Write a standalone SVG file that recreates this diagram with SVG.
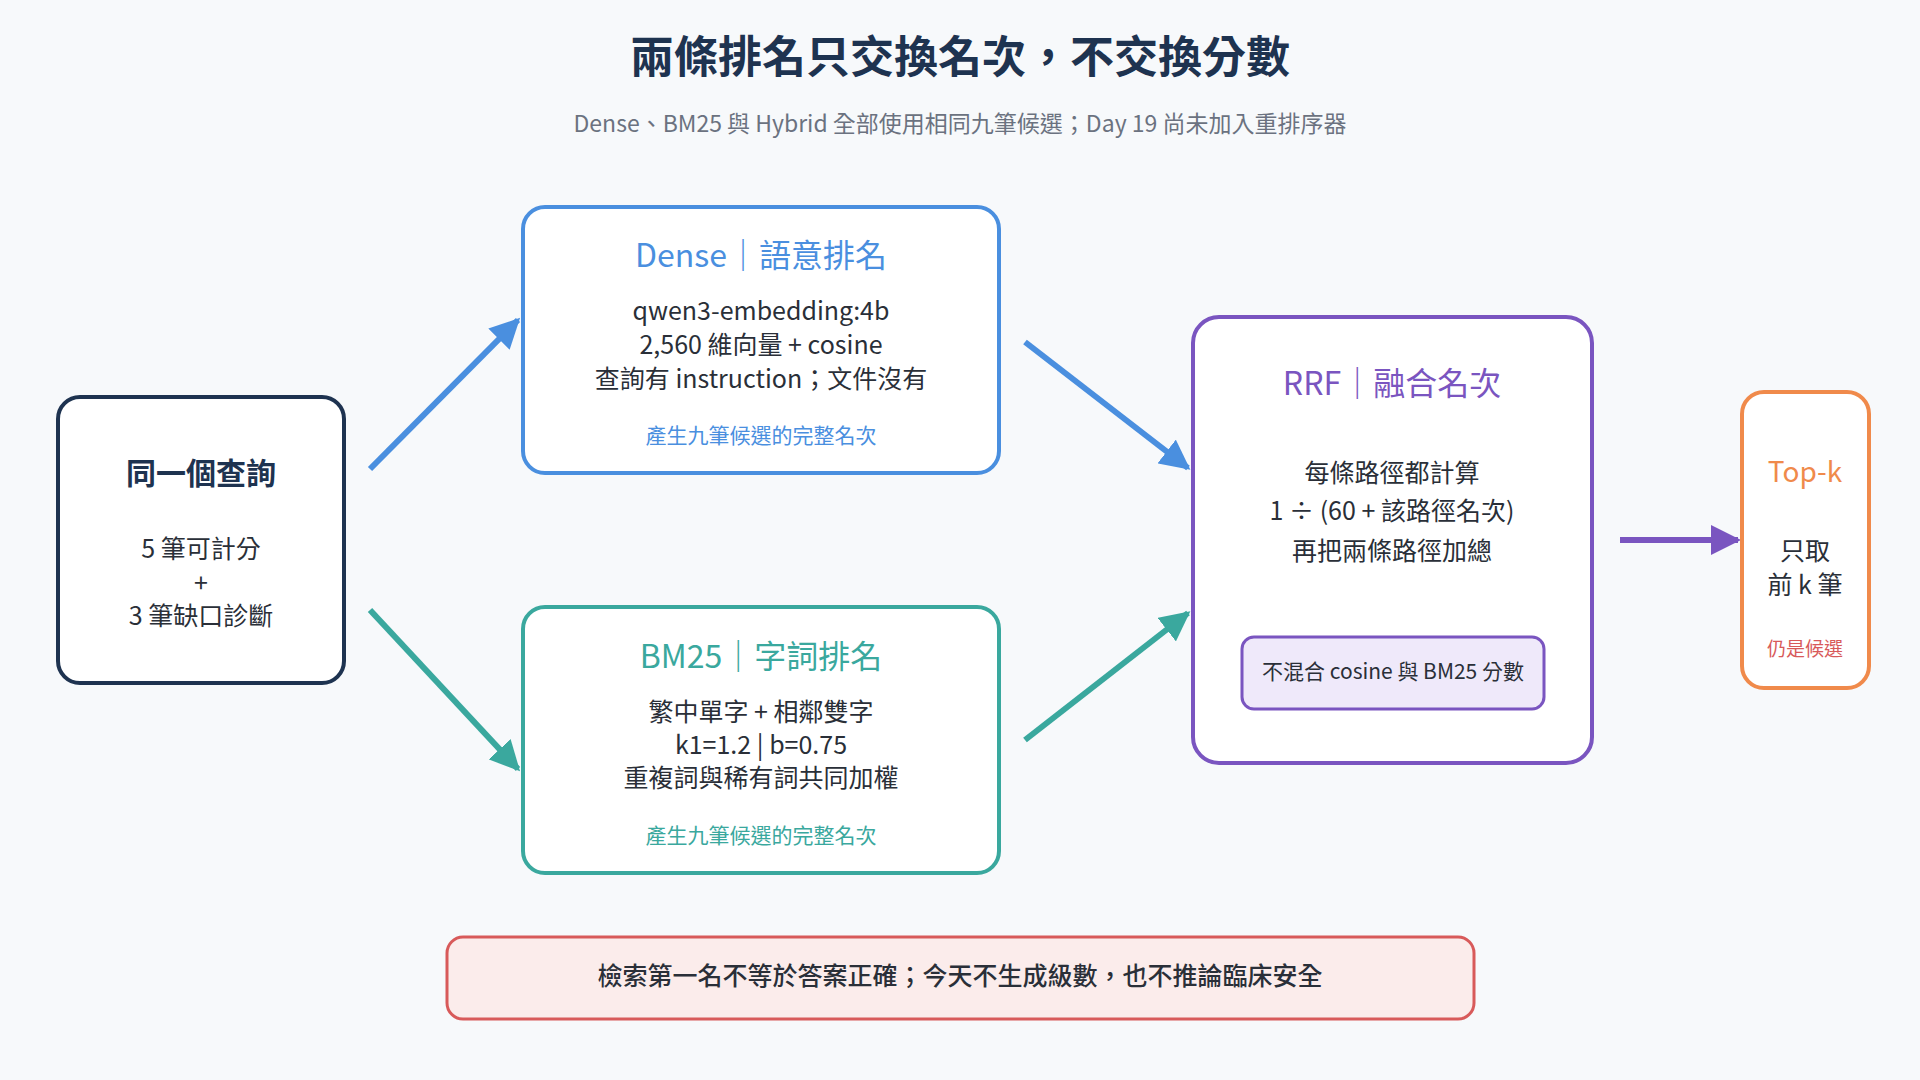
<svg xmlns="http://www.w3.org/2000/svg" width="1920" height="1080" viewBox="0 0 1920 1080">
<style>
text{font-family:"Noto Sans CJK TC","Noto Sans",sans-serif;text-anchor:middle;dominant-baseline:middle}
.box{fill:#fff;stroke-width:4}
.t{font-size:25px;fill:#2a2f38}
.h{font-size:32px}
.s{font-size:21px}
.c{stroke-width:6;fill:none}
</style>
<defs>
<marker id="mb" viewBox="0 0 10 10" refX="9" refY="5" markerWidth="5" markerHeight="5" orient="auto"><path d="M0,0L10,5L0,10z" fill="#4a8fdf"/></marker>
<marker id="mt" viewBox="0 0 10 10" refX="9" refY="5" markerWidth="5" markerHeight="5" orient="auto"><path d="M0,0L10,5L0,10z" fill="#3aa89e"/></marker>
<marker id="mp" viewBox="0 0 10 10" refX="9" refY="5" markerWidth="5" markerHeight="5" orient="auto"><path d="M0,0L10,5L0,10z" fill="#7a55c0"/></marker>
</defs>
<rect width="1920" height="1080" fill="#f7f9fb"/>
<text x="960" y="61" font-size="44" font-weight="bold" fill="#1e3350">兩條排名只交換名次，不交換分數</text>
<text x="960" y="126" font-size="23" fill="#6b7280">Dense、BM25 與 Hybrid 全部使用相同九筆候選；Day 19 尚未加入重排序器</text>
<g id="connectors">
<path class="c" d="M370,469L518,320" stroke="#4a8fdf" marker-end="url(#mb)"/>
<path class="c" d="M370,610L518,769" stroke="#3aa89e" marker-end="url(#mt)"/>
<path class="c" d="M1025,342L1188,468" stroke="#4a8fdf" marker-end="url(#mb)"/>
<path class="c" d="M1025,740L1188,613" stroke="#3aa89e" marker-end="url(#mt)"/>
<path class="c" d="M1620,540L1738,540" stroke="#7a55c0" marker-end="url(#mp)"/>
</g>
<g id="query">
<rect class="box" x="58" y="397" width="286" height="286" rx="22" stroke="#1e3350"/>
<text x="201" y="476" font-size="30" font-weight="bold" fill="#1e3350">同一個查詢</text>
<text class="t" x="201" y="551" font-size="24">5 筆可計分</text>
<text class="t" x="201" y="585">+</text>
<text class="t" x="201" y="618">3 筆缺口診斷</text>
</g>
<g id="dense">
<rect class="box" x="523" y="207" width="476" height="266" rx="22" stroke="#4a8fdf"/>
<text class="h" x="761" y="258" fill="#4a8fdf">Dense｜語意排名</text>
<text class="t" x="761" y="313">qwen3-embedding:4b</text>
<text class="t" x="761" y="347">2,560 維向量 + cosine</text>
<text class="t" x="761" y="381">查詢有 instruction；文件沒有</text>
<text class="s" x="761" y="437" fill="#4a8fdf">產生九筆候選的完整名次</text>
</g>
<g id="bm25">
<rect class="box" x="523" y="607" width="476" height="266" rx="22" stroke="#3aa89e"/>
<text class="h" x="761" y="659" fill="#3aa89e">BM25｜字詞排名</text>
<text class="t" x="761" y="714">繁中單字 + 相鄰雙字</text>
<text class="t" x="761" y="747">k1=1.2 | b=0.75</text>
<text class="t" x="761" y="780">重複詞與稀有詞共同加權</text>
<text class="s" x="761" y="837" fill="#3aa89e">產生九筆候選的完整名次</text>
</g>
<g id="rrf">
<rect class="box" x="1193" y="317" width="399" height="446" rx="26" stroke="#7a55c0"/>
<text class="h" x="1392" y="386" fill="#7a55c0">RRF｜融合名次</text>
<text class="t" x="1392" y="475" font-size="28">每條路徑都計算</text>
<text class="t" x="1392" y="513" font-size="28">1 ÷ (60 + 該路徑名次)</text>
<text class="t" x="1392" y="553" font-size="28">再把兩條路徑加總</text>
<rect x="1242" y="637" width="302" height="72" rx="12" fill="#efe9fa" stroke="#7a55c0" stroke-width="3"/>
<text class="s" x="1393" y="673" fill="#2a2f38">不混合 cosine 與 BM25 分數</text>
</g>
<g id="topk">
<rect class="box" x="1742" y="392" width="127" height="296" rx="22" stroke="#f08a4b"/>
<text x="1805" y="474" font-size="28" fill="#f08a4b">Top-k</text>
<text class="t" x="1805" y="553">只取</text>
<text class="t" x="1805" y="587">前 k 筆</text>
<text x="1805" y="651" font-size="19" fill="#d85a5a">仍是候選</text>
</g>
<g id="note">
<rect x="447" y="937" width="1027" height="82" rx="16" fill="#fbeceb" stroke="#d85a5a" stroke-width="3"/>
<text x="960" y="978" font-size="25" font-weight="500" fill="#2a2f38">檢索第一名不等於答案正確；今天不生成級數，也不推論臨床安全</text>
</g>
</svg>
